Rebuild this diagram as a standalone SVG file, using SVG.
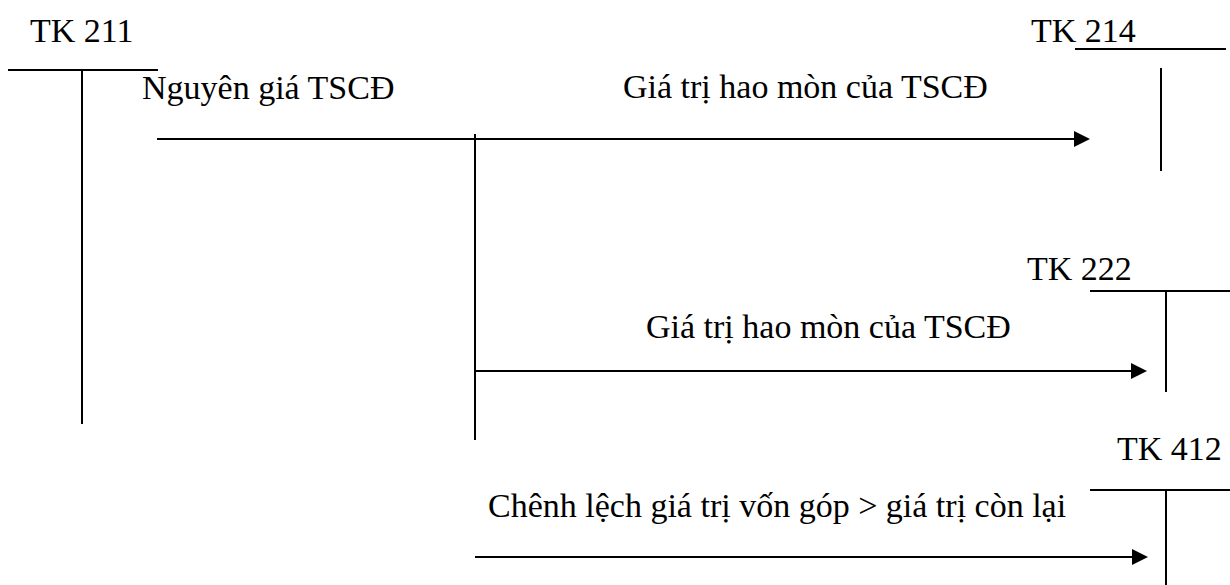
<svg xmlns="http://www.w3.org/2000/svg" width="1230" height="585" viewBox="0 0 1230 585">
  <defs>
    <path id="head" d="M-16,-8 L0,0 L-16,8 Z" fill="#000"/>
  </defs>
  <rect width="1230" height="585" fill="#fff"/>

  <!-- T-accounts: title, horizontal bar, vertical divider -->
  <g id="tk211">
    <text font-family="Times New Roman" font-size="34" x="30" y="42">TK 211</text>
    <line stroke="#000" stroke-width="2" x1="8" y1="70" x2="158" y2="70"/>
    <line stroke="#000" stroke-width="2" x1="82" y1="69" x2="82" y2="424"/>
  </g>
  <g id="tk214">
    <text font-family="Times New Roman" font-size="34" x="1031" y="42">TK 214</text>
    <line stroke="#000" stroke-width="2" x1="1075" y1="49" x2="1226" y2="49"/>
    <line stroke="#000" stroke-width="2" x1="1161" y1="68" x2="1161" y2="171"/>
  </g>
  <g id="tk222">
    <text font-family="Times New Roman" font-size="34" x="1027" y="280">TK 222</text>
    <line stroke="#000" stroke-width="2" x1="1090" y1="291" x2="1230" y2="291"/>
    <line stroke="#000" stroke-width="2" x1="1166" y1="290" x2="1166" y2="392"/>
  </g>
  <g id="tk412">
    <text font-family="Times New Roman" font-size="34" x="1117" y="460">TK 412</text>
    <line stroke="#000" stroke-width="2" x1="1090" y1="490" x2="1230" y2="490"/>
    <line stroke="#000" stroke-width="2" x1="1166" y1="489" x2="1166" y2="585"/>
  </g>

  <!-- postings: lines plus shared arrowhead -->
  <g id="connectors">
    <line stroke="#000" stroke-width="2" x1="157" y1="139" x2="1078" y2="139"/>
    <use href="#head" x="1090" y="139"/>
    <line stroke="#000" stroke-width="2" x1="475" y1="134" x2="475" y2="440"/>
    <line stroke="#000" stroke-width="2" x1="475" y1="371" x2="1135" y2="371"/>
    <use href="#head" x="1147" y="371"/>
    <line stroke="#000" stroke-width="2" x1="475" y1="557" x2="1136" y2="557"/>
    <use href="#head" x="1148" y="557"/>
  </g>

  <g id="labels">
    <text font-family="Times New Roman" font-size="34" x="142" y="99">Nguyên giá TSCĐ</text>
    <text font-family="Times New Roman" font-size="34" x="623" y="98">Giá trị hao mòn của TSCĐ</text>
    <text font-family="Times New Roman" font-size="34" x="646" y="338">Giá trị hao mòn của TSCĐ</text>
    <text font-family="Times New Roman" font-size="34" x="488" y="517">Chênh lệch giá trị vốn góp &gt; giá trị còn lại</text>
  </g>
</svg>
